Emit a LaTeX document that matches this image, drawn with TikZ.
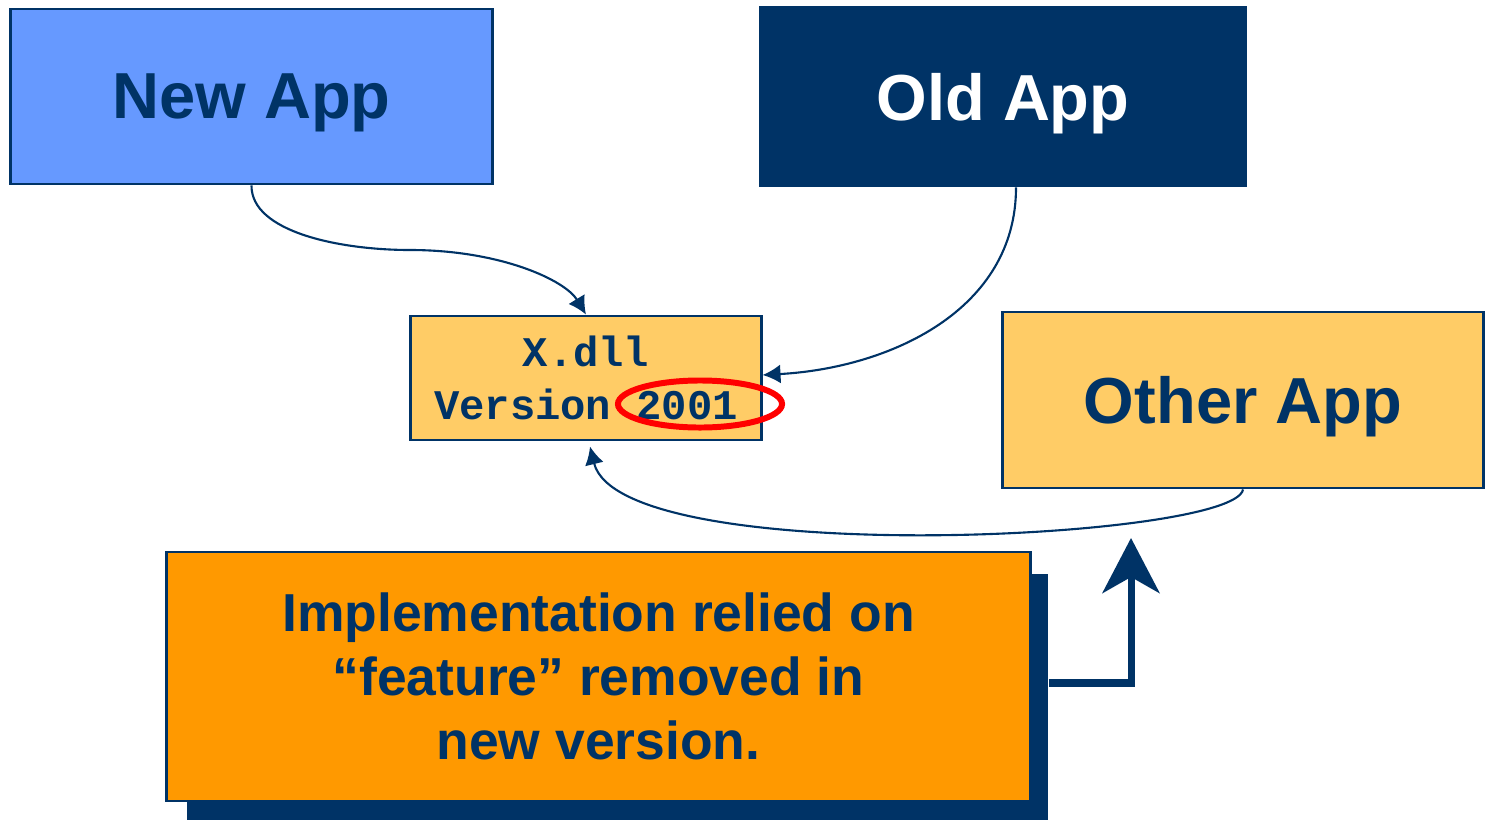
\documentclass[tikz,border=0pt]{standalone}
\usepackage{fontspec}
\setmainfont{Liberation Sans}
\setmonofont{Liberation Mono}
\usepackage{tikz}
\usetikzlibrary{calc, arrows.meta, positioning}
\definecolor{navy}{HTML}{003366}
\definecolor{skyblue}{HTML}{6699FF}
\definecolor{sand}{HTML}{FFCC66}
\definecolor{amber}{HTML}{FF9900}
\tikzstyle{appbox} = [rectangle, draw=navy, line width=0.8pt, text=navy, text depth=0pt, font=\fontsize{18.5}{22}\selectfont\bfseries, minimum height=1.75cm]
\tikzstyle{dllbox} = [rectangle, draw=navy, line width=0.8pt, fill=sand, text=navy, align=center, font=\fontsize{12}{15}\selectfont\ttfamily\bfseries, minimum width=3.5cm, minimum height=1.24cm]
\tikzstyle{link} = [draw=navy, line width=0.6pt, -{Latex[length=0.18cm, width=0.19cm]}]

\begin{document}
\begin{tikzpicture}[x=0.01cm, y=-0.01cm]
        \useasboundingbox (0, 0) rectangle (1488, 821);
        \node[appbox, fill=skyblue, minimum width=4.81cm] at (251.5, 96.5) (NewApp) {New App};
        \node[appbox, fill=navy, text=white, minimum width=4.84cm, minimum height=1.79cm] at (1003, 96.5) (OldApp) {Old App};
        \node[appbox, fill=sand, minimum width=4.8cm, minimum height=1.76cm] at (1243, 400) (OtherApp) {Other App};
        \node[dllbox] at (586, 378) (XDll) {X.dll\\Version 2001};
        \draw[red, line width=1.7pt] (700, 404) ellipse [x radius=0.82cm, y radius=0.235cm];

        \node[rectangle, fill=navy, minimum width=8.61cm, minimum height=2.46cm] at (617.5, 697) (CalloutShadow) {};
        \node[rectangle, draw=navy, line width=0.8pt, fill=amber, text=navy, align=center, font=\fontsize{15.2}{18.2}\selectfont\bfseries, minimum width=8.63cm, minimum height=2.49cm] at (598.5, 676.5) (Callout) {Implementation relied on\\“feature” removed in\\new version.};
        \coordinate (ArrowTip) at (1131, 538);

        \draw[link] (NewApp.south) .. controls (251, 232) and (340, 250) .. (410, 250) .. controls (500, 250) and (565, 280) .. (XDll.north);
        \draw[link] ([xshift=0.13cm]OldApp.south) .. controls (1016, 310) and (890, 368) .. ([yshift=0.03cm]XDll.east);
        \draw[link] (OtherApp.south) .. controls (1235, 540) and (620, 570) .. ([xshift=0.04cm, yshift=-0.05cm]XDll.south);
        \draw[navy, line width=2pt, -{Stealth[length=0.55cm, width=0.57cm, inset=0.16cm]}] ($(CalloutShadow.east)+(0, -14)$) -| (ArrowTip);
    \end{tikzpicture}
\end{document}
